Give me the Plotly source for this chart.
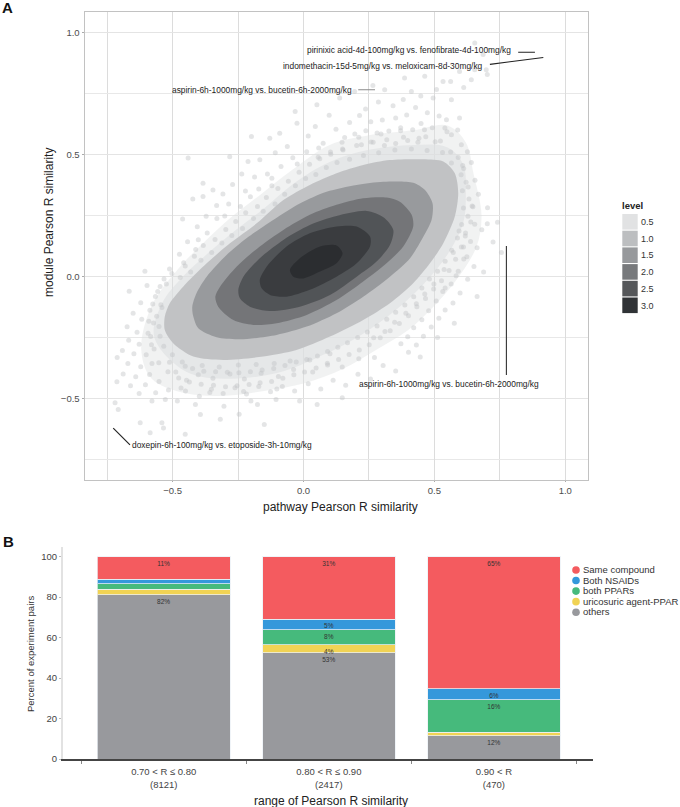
import plotly.graph_objects as go

W, H = 680, 807

# ---------- Panel A data (pathway R, module R) ----------
x_tickvals = [-0.5, 0.0, 0.5, 1.0]
x_ticktext = ["\u22120.5", "0.0", "0.5", "1.0"]
minor_vals = [-0.75, -0.25, 0.25, 0.75]

level_names = ["0.5", "1.0", "1.5", "2.0", "2.5", "3.0"]
level_swatch = ["#e1e2e3", "#bcbec0", "#97999c", "#77797c", "#55575a", "#303336"]
level_fill = ["#bfc1c3", "#96989b", "#727477", "#505255", "#393b3e", "#2b2d30"]

level_05 = [(-0.530,-0.165),(-0.511,-0.110),(-0.460,-0.042),(-0.370,0.054),(-0.281,0.136),(-0.179,0.218),(-0.077,0.314),(0.024,0.376),(0.126,0.424),(0.228,0.458),(0.330,0.478),(0.457,0.481),(0.534,0.472),(0.578,0.424),(0.591,0.342),(0.578,0.246),(0.534,0.136),(0.483,0.054),(0.419,-0.028),(0.330,-0.110),(0.228,-0.179),(0.101,-0.247),(-0.027,-0.302),(-0.154,-0.329),(-0.307,-0.343),(-0.421,-0.329),(-0.498,-0.274),(-0.530,-0.220)]
level_10 = [(-0.425,-0.124),(-0.409,-0.069),(-0.370,-0.001),(-0.294,0.088),(-0.218,0.157),(-0.116,0.232),(-0.014,0.300),(0.088,0.348),(0.203,0.376),(0.305,0.389),(0.419,0.385),(0.464,0.355),(0.493,0.300),(0.489,0.232),(0.458,0.164),(0.407,0.075),(0.330,-0.001),(0.228,-0.083),(0.126,-0.151),(0.012,-0.206),(-0.103,-0.240),(-0.243,-0.258),(-0.332,-0.250),(-0.402,-0.213),(-0.421,-0.165)]
level_15 = [(-0.337,-0.083),(-0.319,-0.042),(-0.256,0.040),(-0.167,0.123),(-0.077,0.191),(0.024,0.253),(0.126,0.294),(0.228,0.321),(0.317,0.324),(0.368,0.307),(0.413,0.253),(0.419,0.205),(0.381,0.123),(0.317,0.054),(0.228,-0.021),(0.126,-0.097),(0.012,-0.158),(-0.103,-0.192),(-0.192,-0.199),(-0.268,-0.179),(-0.326,-0.124)]
level_20 = [(-0.249,-0.055),(-0.230,-0.001),(-0.167,0.075),(-0.077,0.150),(0.024,0.211),(0.126,0.248),(0.241,0.269),(0.305,0.243),(0.343,0.191),(0.330,0.129),(0.279,0.061),(0.203,-0.001),(0.101,-0.076),(-0.014,-0.124),(-0.128,-0.142),(-0.205,-0.124),(-0.243,-0.090)]
level_25 = [(-0.167,-0.014),(-0.141,0.040),(-0.065,0.123),(0.024,0.177),(0.126,0.205),(0.203,0.205),(0.254,0.164),(0.254,0.123),(0.203,0.054),(0.126,-0.001),(0.024,-0.055),(-0.065,-0.083),(-0.128,-0.076),(-0.160,-0.049)]
level_30 = [(-0.052,0.027),(-0.014,0.075),(0.063,0.123),(0.126,0.127),(0.149,0.095),(0.126,0.054),(0.063,0.020),(-0.001,-0.008),(-0.039,-0.001)]

haze_outer = [(-0.62,-0.30),(-0.58,-0.12),(-0.48,0.03),(-0.38,0.14),(-0.28,0.24),(-0.16,0.34),(-0.04,0.44),(0.10,0.54),(0.25,0.58),(0.42,0.60),(0.55,0.62),(0.62,0.55),(0.65,0.42),(0.68,0.25),(0.66,0.12),(0.58,-0.02),(0.50,-0.12),(0.40,-0.22),(0.28,-0.30),(0.15,-0.38),(0.0,-0.44),(-0.15,-0.47),(-0.3,-0.49),(-0.45,-0.48),(-0.58,-0.42)]
haze_inner = [(-0.57,-0.25),(-0.54,-0.11),(-0.46,0.0),(-0.36,0.10),(-0.26,0.19),(-0.15,0.28),(-0.04,0.38),(0.10,0.47),(0.25,0.52),(0.42,0.54),(0.55,0.53),(0.61,0.46),(0.62,0.34),(0.61,0.22),(0.55,0.09),(0.46,-0.03),(0.35,-0.14),(0.22,-0.24),(0.08,-0.32),(-0.08,-0.39),(-0.28,-0.42),(-0.45,-0.39)]

cloud_ne = [(0.654,0.959),(0.686,0.911),(0.702,0.829),(0.654,0.849),(0.596,0.842),(0.562,0.801),(0.641,0.808),(0.698,0.849),(0.533,0.801),(0.463,0.822),(0.386,0.815),(0.412,0.760),(0.310,0.767),(0.265,0.784),(0.195,0.760),(0.138,0.733),(0.565,0.726),(0.546,0.644),(0.596,0.651),(0.565,0.582),(0.540,0.610),(0.603,0.541),(0.533,0.438),(0.565,0.466),(0.533,0.370),(0.577,0.308),(0.495,0.733),(0.612,0.776),(0.508,0.768),(0.448,0.741),(0.381,0.727),(0.342,0.701),(0.286,0.716),(0.237,0.688),(0.428,0.694),(0.473,0.672),(0.518,0.659),(0.394,0.663),(0.352,0.651),(0.301,0.642),(0.257,0.635),(0.214,0.661),(0.176,0.632),(0.449,0.628),(0.492,0.611),(0.417,0.602),(0.371,0.611),(0.326,0.597),(0.281,0.589),(0.238,0.598),(0.196,0.585),(0.157,0.571),(0.124,0.604),(0.467,0.574),(0.523,0.556),(0.437,0.551),(0.398,0.558),(0.352,0.546),(0.309,0.538),(0.266,0.551),(0.221,0.541),(0.589,0.601),(0.626,0.512),(0.641,0.468),(0.612,0.443),(0.655,0.395),(0.629,0.367),(0.668,0.338),(0.644,0.289),(0.703,0.282)]
cloud_n = [(-0.032,0.677),(0.051,0.705),(0.045,0.616),(-0.025,0.629),(-0.091,0.588),(-0.129,0.568),(-0.199,0.575),(-0.441,0.486),(-0.384,0.383),(-0.212,0.472),(-0.167,0.479),(-0.282,0.492),(-0.346,0.355),(-0.384,0.328),(0.075,0.547),(0.098,0.662),(0.018,0.577),(-0.062,0.534),(-0.108,0.508),(-0.041,0.487),(0.012,0.512),(0.056,0.489),(0.103,0.511),(0.149,0.523),(-0.086,0.452),(-0.138,0.421),(-0.187,0.408),(-0.236,0.421),(-0.271,0.378),(-0.308,0.339),(-0.222,0.351),(-0.171,0.359),(-0.121,0.372),(-0.332,0.291),(-0.286,0.298),(-0.241,0.287),(-0.372,0.247),(-0.331,0.238),(-0.406,0.204),(-0.368,0.178),(-0.443,0.142),(-0.412,0.111),(-0.474,0.091),(-0.452,0.043),(-0.512,0.031),(-0.423,0.318),(-0.462,0.236)]
cloud_w = [(-0.548,-0.041),(-0.566,-0.082),(-0.598,-0.037),(-0.541,-0.128),(-0.587,-0.139),(-0.622,-0.108),(-0.573,-0.191),(-0.618,-0.176),(-0.651,-0.151),(-0.594,-0.233),(-0.636,-0.229),(-0.674,-0.207),(-0.581,-0.281),(-0.628,-0.278),(-0.668,-0.262),(-0.601,-0.322),(-0.648,-0.318),(-0.692,-0.304),(-0.579,-0.358),(-0.622,-0.371),(-0.671,-0.358),(-0.712,-0.333),(-0.588,-0.403),(-0.641,-0.412),(-0.689,-0.401),(-0.552,-0.431),(-0.604,-0.445),(-0.661,-0.449),(-0.713,-0.432),(-0.516,-0.466),(-0.565,-0.478),(-0.628,-0.481),(-0.533,-0.011),(-0.606,0.021),(-0.666,-0.061)]
cloud_s = [(-0.579,-0.512),(-0.528,-0.505),(-0.413,-0.526),(-0.304,-0.533),(-0.176,-0.526),(-0.720,-0.519),(-0.708,-0.546),(-0.624,-0.601),(-0.541,-0.601),(-0.394,-0.567),(-0.201,-0.512),(-0.105,-0.505),(-0.015,-0.512),(-0.150,-0.608),(-0.586,-0.642),(-0.535,-0.622),(-0.482,-0.512),(-0.451,-0.471),(-0.398,-0.492),(-0.352,-0.463),(-0.307,-0.481),(-0.262,-0.457),(-0.218,-0.483),(-0.171,-0.452),(-0.126,-0.474),(-0.081,-0.452),(-0.034,-0.471),(0.018,-0.441),(0.066,-0.462),(0.113,-0.426),(0.161,-0.447),(0.208,-0.402),(0.256,-0.421),(0.304,-0.366),(0.352,-0.388),(0.401,-0.311),(-0.447,-0.426),(-0.402,-0.404),(-0.346,-0.418),(-0.281,-0.401),(-0.226,-0.421),(-0.162,-0.398),(-0.096,-0.411),(-0.038,-0.382),(0.035,-0.392),(0.092,-0.364),(0.148,-0.372),(0.211,-0.338),(0.271,-0.333),(-0.488,-0.392),(-0.512,-0.352),(-0.452,-0.369),(-0.387,-0.366),(-0.322,-0.372),(-0.249,-0.364),(-0.181,-0.362),(-0.112,-0.358),(-0.051,-0.347),(0.024,-0.343),(0.101,-0.318),(0.052,-0.526),(0.148,-0.498),(-0.452,-0.648),(-0.318,-0.587),(-0.246,-0.566)]
cloud_se = [(0.663,0.118),(0.618,0.166),(0.681,0.192),(0.639,0.224),(0.702,0.216),(0.724,0.141),(0.756,0.098),(0.612,0.072),(0.651,0.041),(0.591,0.021),(0.627,-0.012),(0.688,0.018),(0.564,-0.031),(0.598,-0.068),(0.532,-0.062),(0.571,-0.109),(0.507,-0.101),(0.541,-0.138),(0.478,-0.141),(0.517,-0.172),(0.452,-0.178),(0.488,-0.208),(0.421,-0.211),(0.458,-0.246),(0.398,-0.248),(0.431,-0.282),(0.372,-0.276),(0.611,0.121),(0.572,0.098),(0.594,0.187),(0.537,0.028),(0.498,-0.031),(0.463,-0.072),(0.431,-0.112),(0.391,-0.151),(0.348,-0.188),(0.311,-0.226),(0.268,-0.252),(0.576,-0.192),(0.512,-0.251),(0.446,-0.331),(0.741,0.223),(0.663,-0.082)]
# densely mottled band just outside the 0.5 contour
band_upper = [(-0.557,-0.062),(-0.524,-0.031),(-0.503,0.012),(-0.471,-0.004),(-0.458,0.056),(-0.431,0.018),(-0.417,0.083),(-0.392,0.066),(-0.383,0.127),(-0.351,0.098),(-0.338,0.152),(-0.312,0.137),(-0.297,0.193),(-0.274,0.168),(-0.259,0.226),(-0.233,0.197),(-0.221,0.262),(-0.191,0.238),(-0.176,0.287),(-0.154,0.268),(-0.142,0.324),(-0.109,0.297),(-0.098,0.361),(-0.072,0.338),(-0.058,0.391),(-0.031,0.372),(-0.017,0.428),(0.008,0.402),(0.023,0.461),(0.047,0.419),(0.062,0.483),(0.087,0.447),(0.104,0.502),(0.128,0.468),(0.151,0.519),(0.176,0.481),(0.203,0.538),(0.229,0.497),(0.258,0.552),(0.287,0.508),(0.318,0.561),(0.349,0.519),(0.382,0.572),(0.412,0.523),(0.441,0.568),(0.472,0.517),(0.503,0.553),(0.531,0.509),(0.211,0.572),(0.147,0.551),(0.058,0.527),(-0.024,0.462),(-0.121,0.403),(-0.203,0.327),(-0.301,0.248),(-0.402,0.151),(0.296,0.585),(0.371,0.598),(0.462,0.602),(0.548,0.594)]
band_right = [(0.562,0.511),(0.591,0.488),(0.608,0.456),(0.602,0.418),(0.621,0.387),(0.607,0.352),(0.632,0.318),(0.611,0.281),(0.628,0.247),(0.604,0.213),(0.619,0.178),(0.588,0.158),(0.603,0.121),(0.566,0.108),(0.581,0.071),(0.541,0.062),(0.556,0.024),(0.512,0.021),(0.527,-0.018),(0.481,-0.011),(0.497,-0.052),(0.452,-0.048),(0.466,-0.091),(0.421,-0.083),(0.433,-0.124),(0.387,-0.117),(0.401,-0.161),(0.352,-0.147),(0.366,-0.193),(0.318,-0.176),(0.331,-0.223),(0.281,-0.204),(0.293,-0.252),(0.647,0.286),(0.654,0.214),(0.638,0.143),(0.624,0.081),(0.583,0.003),(0.541,-0.047)]
band_lower = [(0.244,-0.228),(0.251,-0.281),(0.207,-0.251),(0.213,-0.302),(0.168,-0.272),(0.174,-0.321),(0.131,-0.291),(0.134,-0.341),(0.092,-0.308),(0.091,-0.357),(0.053,-0.327),(0.048,-0.376),(0.012,-0.341),(0.004,-0.392),(-0.028,-0.351),(-0.037,-0.404),(-0.071,-0.366),(-0.079,-0.418),(-0.114,-0.378),(-0.122,-0.431),(-0.158,-0.384),(-0.166,-0.437),(-0.203,-0.391),(-0.208,-0.444),(-0.247,-0.396),(-0.254,-0.449),(-0.291,-0.393),(-0.298,-0.453),(-0.336,-0.391),(-0.344,-0.447),(-0.381,-0.389),(-0.391,-0.443),(-0.424,-0.378),(-0.436,-0.434),(-0.463,-0.351),(-0.477,-0.417),(-0.501,-0.322),(-0.518,-0.391),(-0.534,-0.287),(-0.553,-0.354),(-0.548,-0.246),(-0.571,-0.298),(-0.552,-0.206),(-0.584,-0.247),(-0.561,-0.163),(-0.591,-0.184),(-0.545,-0.116),(-0.576,-0.113),(-0.102,-0.462),(-0.229,-0.473),(-0.358,-0.477),(-0.468,-0.458)]

# annotation labels and leader segments
note_text = ["pirinixic acid-4d-100mg/kg vs. fenofibrate-4d-100mg/kg",
             "indomethacin-15d-5mg/kg vs. meloxicam-8d-30mg/kg",
             "aspirin-6h-1000mg/kg vs. bucetin-6h-2000mg/kg",
             "aspirin-6h-1000mg/kg vs. bucetin-6h-2000mg/kg",
             "doxepin-6h-100mg/kg vs. etoposide-3h-10mg/kg"]
note_x = [0.800, 0.695, 0.193, 0.557, -0.662]
note_y = [0.930, 0.866, 0.767, -0.441, -0.692]
note_anchor = ["right", "right", "right", "center", "left"]
seg_x = [(0.820, 0.884), (0.712, 0.916), (0.209, 0.273), (0.775, 0.775), (-0.727, -0.663)]
seg_y = [(0.921, 0.921), (0.871, 0.899), (0.767, 0.767), (0.125, -0.405), (-0.623, -0.692)]
seg_col = ["#222222", "#222222", "#8a8a8a", "#333333", "#222222"]

# ---------- Panel B data ----------
categories = ["0.70 < R \u2264 0.80<br>(8121)", "0.80 < R \u2264 0.90<br>(2417)", "0.90 < R<br>(470)"]
series_names = ["others", "uricosuric agent-PPAR", "both PPARs", "Both NSAIDs", "Same compound"]
others = [81.2, 52.6, 11.5]
uricosuric = [2.6, 3.8, 1.7]
both_ppars = [2.8, 7.4, 16.0]
both_nsaids = [2.2, 5.4, 5.6]
same_compound = [11.2, 30.8, 65.2]
labels_others = ["82%", "53%", "12%"]
labels_uric = ["", "4%", ""]
labels_ppars = ["", "8%", "16%"]
labels_nsaids = ["", "5%", "6%"]
labels_same = ["11%", "31%", "65%"]
series_colors = ["#98999d", "#f1d354", "#46ba7c", "#3498db", "#f45b5f"]

FONT = "Liberation Sans, Arial, sans-serif"
fig = go.Figure()

def closed(poly):
    return [p[0] for p in poly] + [poly[0][0]], [p[1] for p in poly] + [poly[0][1]]

for poly, alpha in ((haze_outer, 0.42), (haze_inner, 0.6)):
    cx, cy = closed(poly)
    fig.add_trace(go.Scatter(x=cx, y=cy, mode="lines", fill="toself", fillcolor=f"rgba(222,223,225,{alpha})",
                             line=dict(width=0, shape="spline", smoothing=1), hoverinfo="skip",
                             showlegend=False))
all_cloud = cloud_ne + cloud_n + cloud_w + cloud_s + cloud_se + band_upper + band_right + band_lower
fig.add_trace(go.Scatter(x=[p[0] for p in all_cloud], y=[p[1] for p in all_cloud], mode="markers",
                         marker=dict(size=5, color="rgba(190,192,195,0.42)", line=dict(width=0)),
                         showlegend=False))

for poly, col in zip((level_05, level_10, level_15, level_20, level_25, level_30), level_fill):
    px, py = closed(poly)
    fig.add_trace(go.Scatter(x=px, y=py, mode="lines", fill="toself", fillcolor=col,
                             line=dict(width=0, shape="spline", smoothing=0.8), opacity=0.96,
                             showlegend=False))

for sx, sy, c in zip(seg_x, seg_y, seg_col):
    fig.add_trace(go.Scatter(x=list(sx), y=list(sy), mode="lines", line=dict(color=c, width=1.1),
                             showlegend=False, hoverinfo="skip"))

annotations = []
for t, nx, ny, a in zip(note_text, note_x, note_y, note_anchor):
    annotations.append(dict(x=nx, y=ny, xref="x", yref="y", text=t, showarrow=False, xanchor=a,
                            yanchor="middle", font=dict(family=FONT, size=8.4, color="#222222")))

# B: stacked bars
bar_values = [others, uricosuric, both_ppars, both_nsaids, same_compound]
bar_labels = [labels_others, labels_uric, labels_ppars, labels_nsaids, labels_same]
for name, vals, texts, col in zip(series_names, bar_values, bar_labels, series_colors):
    fig.add_trace(go.Bar(x=[0, 1, 2], y=vals, name=name, xaxis="x2", yaxis="y2", width=0.803,
                         marker=dict(color=col, line=dict(color="rgba(235,240,245,0.75)", width=1)),
                         text=texts, textposition="inside", insidetextanchor="end", textangle=0,
                         constraintext="none", cliponaxis=False,
                         textfont=dict(family=FONT, size=6.5, color="#333333"), showlegend=False))

# layout helpers (pixel to paper)
def fx(px): return px / W
def fy(py): return 1 - py / H

shapes = []
# level legend
annotations.append(dict(x=fx(620), y=fy(205.5), xref="paper", yref="paper", text="<b>level</b>", showarrow=False,
                        xanchor="left", yanchor="middle", font=dict(family=FONT, size=9.5, color="#222222")))
for i, (n, c) in enumerate(zip(level_names, level_swatch)):
    top = 214 + i * 16.7
    shapes.append(dict(type="rect", xref="paper", yref="paper", x0=fx(622.3), x1=fx(637.7), y0=fy(top), y1=fy(top + 15.6),
                       fillcolor=c, line=dict(width=0)))
    annotations.append(dict(x=fx(639), y=fy(top + 8), xref="paper", yref="paper", text=n, showarrow=False,
                            xanchor="left", yanchor="middle", font=dict(family=FONT, size=9, color="#333333")))
# bar legend
for i, (n, c) in enumerate(zip(series_names[::-1], series_colors[::-1])):
    yc = 570 + i * 10.55
    shapes.append(dict(type="circle", xref="paper", yref="paper", x0=fx(572.2), x1=fx(579.8), y0=fy(yc - 3.8), y1=fy(yc + 3.8),
                       fillcolor=c, line=dict(width=0)))
    annotations.append(dict(x=fx(581), y=fy(yc - 0.5), xref="paper", yref="paper", text=n, showarrow=False,
                            xanchor="left", yanchor="middle", font=dict(family=FONT, size=9.5, color="#333333")))
# panel letters
annotations.append(dict(x=fx(0), y=fy(8), xref="paper", yref="paper", text="<b>A</b>", showarrow=False, xanchor="left",
                        yanchor="middle", font=dict(family=FONT, size=15, color="#111111")))
annotations.append(dict(x=fx(1), y=fy(541), xref="paper", yref="paper", text="<b>B</b>", showarrow=False, xanchor="left",
                        yanchor="middle", font=dict(family=FONT, size=15, color="#111111")))
# axis titles (placed off-centre in the reference)
for text, px, py, angle, size, col in (("pathway Pearson R similarity", 340.5, 507, 0, 12, "#222222"),
                                       ("module Pearson R similarity", 49, 222, -90, 12, "#222222"),
                                       ("range of Pearson R similarity", 331, 800.5, 0, 12, "#222222"),
                                       ("Percent of experiment pairs", 30, 654, -90, 9.5, "#333333")):
    annotations.append(dict(x=fx(px), y=fy(py), xref="paper", yref="paper", text=text, showarrow=False, textangle=angle,
                            xanchor="center", yanchor="middle", font=dict(family=FONT, size=size, color=col)))

fig.update_layout(
    width=W, height=H, margin=dict(l=0, r=0, t=0, b=0, autoexpand=False),
    paper_bgcolor="white", plot_bgcolor="white", showlegend=False, barmode="stack",
    font=dict(family=FONT, color="#333333"), shapes=shapes, annotations=annotations, hovermode=False,
    xaxis=dict(domain=[fx(84.7), fx(587.7)], range=[-0.836, 1.0856], anchor="y", tickmode="array",
               tickvals=x_tickvals, ticktext=x_ticktext, ticks="outside", ticklen=1, tickcolor="#aaaaaa",
               tickfont=dict(size=9.5, color="#4d4d4d"), showgrid=True, gridcolor="#dcdcdc", gridwidth=1.1,
               zeroline=False, showline=True, linecolor="#c2c2c2", linewidth=1.4, mirror=True,
               minor=dict(tickmode="array", tickvals=minor_vals, showgrid=True, gridcolor="#dcdcdc", gridwidth=1.2, ticks="")),
    yaxis=dict(domain=[fy(480), fy(12)], range=[-0.836, 1.086], anchor="x", tickmode="array",
               tickvals=x_tickvals, ticktext=x_ticktext, ticks="outside", ticklen=2, tickcolor="#aaaaaa",
               tickfont=dict(size=9.5, color="#4d4d4d"), showgrid=True, gridcolor="#e4e4e4", gridwidth=1.1,
               zeroline=False, showline=True, linecolor="#c2c2c2", linewidth=1.4, mirror=True,
               minor=dict(tickmode="array", tickvals=minor_vals, showgrid=True, gridcolor="#e8e8e8", gridwidth=1.1, ticks="")),
    xaxis2=dict(domain=[fx(63), fx(593)], range=[-0.61, 2.6], anchor="y2", tickmode="array", tickvals=[0, 1, 2],
                ticktext=categories, ticks="outside", ticklen=3, tickcolor="rgba(0,0,0,0)", tickfont=dict(size=9.5, color="#444444"),
                showgrid=False, zeroline=False, showline=True, linecolor="#444444", linewidth=1.5,
                minor=dict(tickmode="array", tickvals=[-0.5, 0.5, 1.5, 2.5], ticks="outside", ticklen=3, tickcolor="#888888", showgrid=False)),
    yaxis2=dict(domain=[fy(759), fy(547)], range=[0, 104.8], anchor="x2", tickmode="array", tickvals=[0, 20, 40, 60, 80, 100],
                ticks="outside", ticklen=2, tickcolor="#bbbbbb", tickfont=dict(size=9.5, color="#444444"), showgrid=False,
                zeroline=False, showline=True, linecolor="#e2e2e2", linewidth=2),
)

# the page's default body margin would push the figure off the 680x807 window
fig.write_html("out.html", config={"displayModeBar": False},
               post_script="document.body.style.margin='0';document.body.style.overflow='hidden';")
